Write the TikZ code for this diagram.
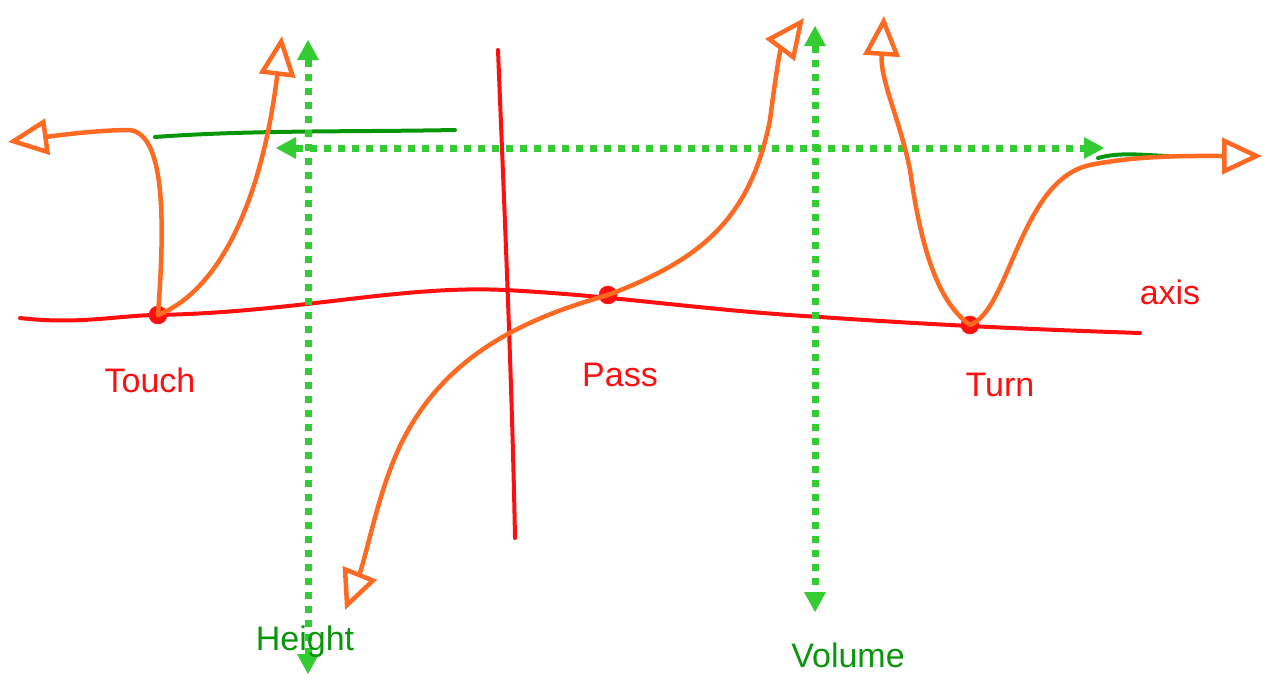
\documentclass[tikz,border=0pt]{standalone}
\usepackage{fontspec}
\setmainfont{Liberation Sans}
\usetikzlibrary{arrows.meta}
\definecolor{axred}{HTML}{FF1010}
\definecolor{curveor}{HTML}{FF6A22}
\definecolor{dotgreen}{HTML}{33CC33}
\definecolor{dkgreen}{HTML}{0A960A}
\tikzset{
  axisline/.style={draw=axred, line width=4pt, line cap=round},
  curveline/.style={draw=curveor, line width=4.5pt, line cap=round, line join=round},
  orarrow/.style={-{Triangle[open, length=40pt, width=36pt, line width=4.5pt]}},
  dotline/.style={draw=dotgreen, line width=7pt, dash pattern=on 7pt off 7pt,
    {Triangle[length=20pt,width=22pt,fill=dotgreen,line width=0pt]}-{Triangle[length=20pt,width=22pt,fill=dotgreen,line width=0pt]}},
  asym/.style={draw=dkgreen, line width=4pt, line cap=round},
  dotn/.style={circle, fill=axred, draw=axred, inner sep=0pt, minimum size=18pt},
  redlab/.style={text=axred, font=\fontsize{34}{34}\selectfont},
  greenlab/.style={text=dkgreen, font=\fontsize{34}{34}\selectfont},
}
\begin{document}
\begin{tikzpicture}[x=1pt,y=-1pt]
\useasboundingbox (0,0) rectangle (1272,689);
% red axes
\coordinate (xl) at (20,318);
\coordinate (xr) at (1140,333);
\draw[axisline] (xl) .. controls (80,325) and (120,315) .. (158,315)
  .. controls (300,312) and (400,285) .. (505,290)
  .. controls (620,296) and (700,310) .. (820,317)
  .. controls (950,326) and (1050,330) .. (xr);
\coordinate (yt) at (498,50);
\coordinate (yb) at (515,538);
\draw[axisline] (yt) .. controls (504,200) and (512,380) .. (yb);
% dots
\node[dotn] (touch) at (158,315) {};
\node[dotn] (pass) at (608,295) {};
\node[dotn] (turn) at (970,325) {};
% labels
\node[redlab] (ltouch) at (150,380) {Touch};
\node[redlab] (lpass) at (620,375) {Pass};
\node[redlab] (lturn) at (1000,385) {Turn};
\node[redlab] (laxis) at (1170,292) {axis};
% green asymptotes
\coordinate (h1a) at (155,137);
\coordinate (h1b) at (455,130);
\draw[asym] (h1a) .. controls (250,130) and (350,132) .. (h1b);
\coordinate (h2a) at (1098,158);
\coordinate (h2b) at (1168,156);
\draw[asym] (h2a) .. controls (1120,152) and (1140,155) .. (h2b);
% green dotted arrows
\coordinate (v1t) at (308,40);
\coordinate (v1b) at (308,674);
\draw[dotline] (v1t) -- (v1b);
\coordinate (v2t) at (815,26);
\coordinate (v2b) at (815,612);
\draw[dotline] (v2t) -- (v2b);
\coordinate (hl) at (276,148);
\coordinate (hr) at (1104,148);
\draw[dotline] (hl) -- (hr);
\node[greenlab] (lheight) at (305,642) {Height};
\node[greenlab] (lvolume) at (848,655) {Volume};
% orange curves
\coordinate (a1) at (8,142);
\coordinate (a2) at (282,36);
\coordinate (a3) at (345,610);
\coordinate (a4) at (804,18);
\coordinate (a5) at (884,16);
\coordinate (a6) at (1262,156);
\draw[curveline, orarrow] (touch.center) .. controls (165,220) and (165,135) .. (130,130)
  .. controls (100,130) and (60,135) .. (a1);
\draw[curveline, orarrow] (touch.center) .. controls (220,290) and (262,200) .. (a2);
\draw[curveline, orarrow] (pass.center) .. controls (520,320) and (430,360) .. (390,470)
  .. controls (375,510) and (365,560) .. (a3);
\draw[curveline, orarrow] (pass.center) .. controls (700,260) and (750,220) .. (770,120)
  .. controls (775,80) and (780,50) .. (a4);
\draw[curveline, orarrow] (turn.center) .. controls (935,300) and (920,240) .. (910,170)
  .. controls (900,120) and (880,80) .. (a5);
\draw[curveline, orarrow] (turn.center) .. controls (1010,310) and (1020,180) .. (1090,165)
  .. controls (1140,155) and (1190,156) .. (a6);
\end{tikzpicture}
\end{document}
